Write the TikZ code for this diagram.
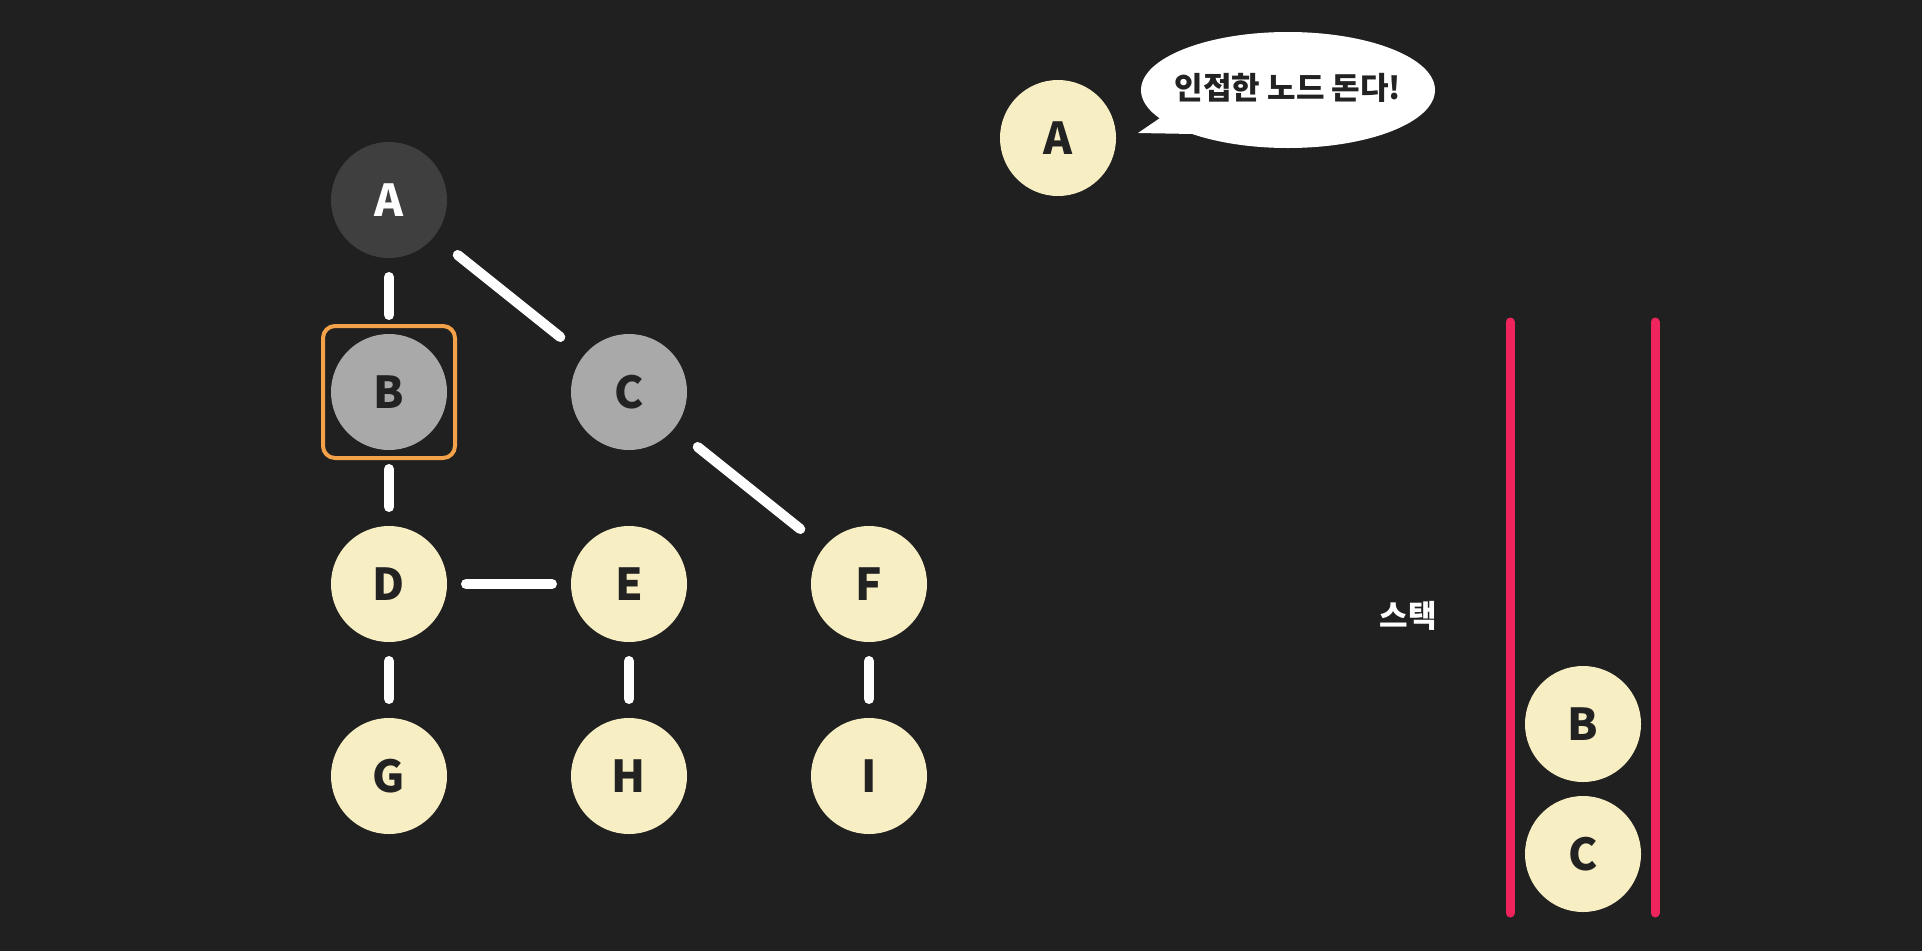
\documentclass[tikz,border=0pt]{standalone}
\usepackage{fontspec}
\setmainfont{Noto Sans CJK KR}
\newfontfamily\kofont{Noto Sans CJK KR}
\usetikzlibrary{shapes.geometric}
\definecolor{bgcol}{HTML}{202020}
\definecolor{cream}{HTML}{F7EEC3}
\definecolor{visited}{HTML}{3F3F3F}
\definecolor{queued}{HTML}{A9A9A9}
\definecolor{ink}{HTML}{222222}
\definecolor{mark}{HTML}{F4A24A}
\definecolor{wall}{HTML}{F0245C}
\begin{document}
\begin{tikzpicture}[x=1pt, y=-1pt,
    vertex/.style={circle, fill=cream, text=ink, minimum size=116pt, inner sep=0pt, outer sep=0pt,
        font=\kofont\fontsize{44}{46}\selectfont\bfseries},
    edge/.style={white, line width=10pt, line cap=round, shorten <=19pt, shorten >=19pt},
    diag/.style={edge, shorten <=30pt, shorten >=30pt}]
    \fill[bgcol] (0,0) rectangle (1922,951);

    % tree
    \node[vertex, fill=visited, text=white] (a) at (389, 200) {A};
    \node[vertex, fill=queued] (b) at (389, 392) {B};
    \node[vertex, fill=queued] (c) at (629, 392) {C};
    \node[vertex] (d) at (389, 584) {D};
    \node[vertex] (e) at (629, 584) {E};
    \node[vertex] (f) at (869, 584) {F};
    \node[vertex] (g) at (389, 776) {G};
    \node[vertex] (h) at (629, 776) {H};
    \node[vertex] (i) at (869, 776) {I};
    \node[draw=mark, line width=4pt, rounded corners=12pt, minimum size=132pt] (cur) at (b) {};

    \draw[edge] (a) -- (b);
    \draw[diag] (a) -- (c);
    \draw[edge] (b) -- (d);
    \draw[diag] (c) -- (f);
    \draw[edge] (d) -- (e);
    \draw[edge] (d) -- (g);
    \draw[edge] (e) -- (h);
    \draw[edge] (f) -- (i);

    % current node and bubble
    \node[vertex] (top) at (1058, 138) {A};
    \node[ellipse, fill=white, minimum width=294pt, minimum height=116pt, inner sep=0pt,
        label={[text=ink, yshift=2pt, font=\kofont\fontsize{31}{33}\selectfont\bfseries]center:인접한 노드 돈다!}]
        (say) at (1288, 90) {};
    \coordinate (tip) at (1138, 133);
    \fill[white] (tip) -- (1160, 118) -- (1200, 110) -- (1193, 134) -- cycle;

    % stack
    \draw[wall, line width=9pt, line cap=round] (1510, 322) -- (1510, 913);
    \draw[wall, line width=9pt, line cap=round] (1655, 322) -- (1655, 913);
    \node[vertex] (s1) at (1583, 724) {B};
    \node[vertex] (s2) at (1583, 854) {C};
    \node[text=white, font=\kofont\fontsize{31}{33}\selectfont\bfseries] (lbl) at (1408, 616) {스택};
\end{tikzpicture}
\end{document}
